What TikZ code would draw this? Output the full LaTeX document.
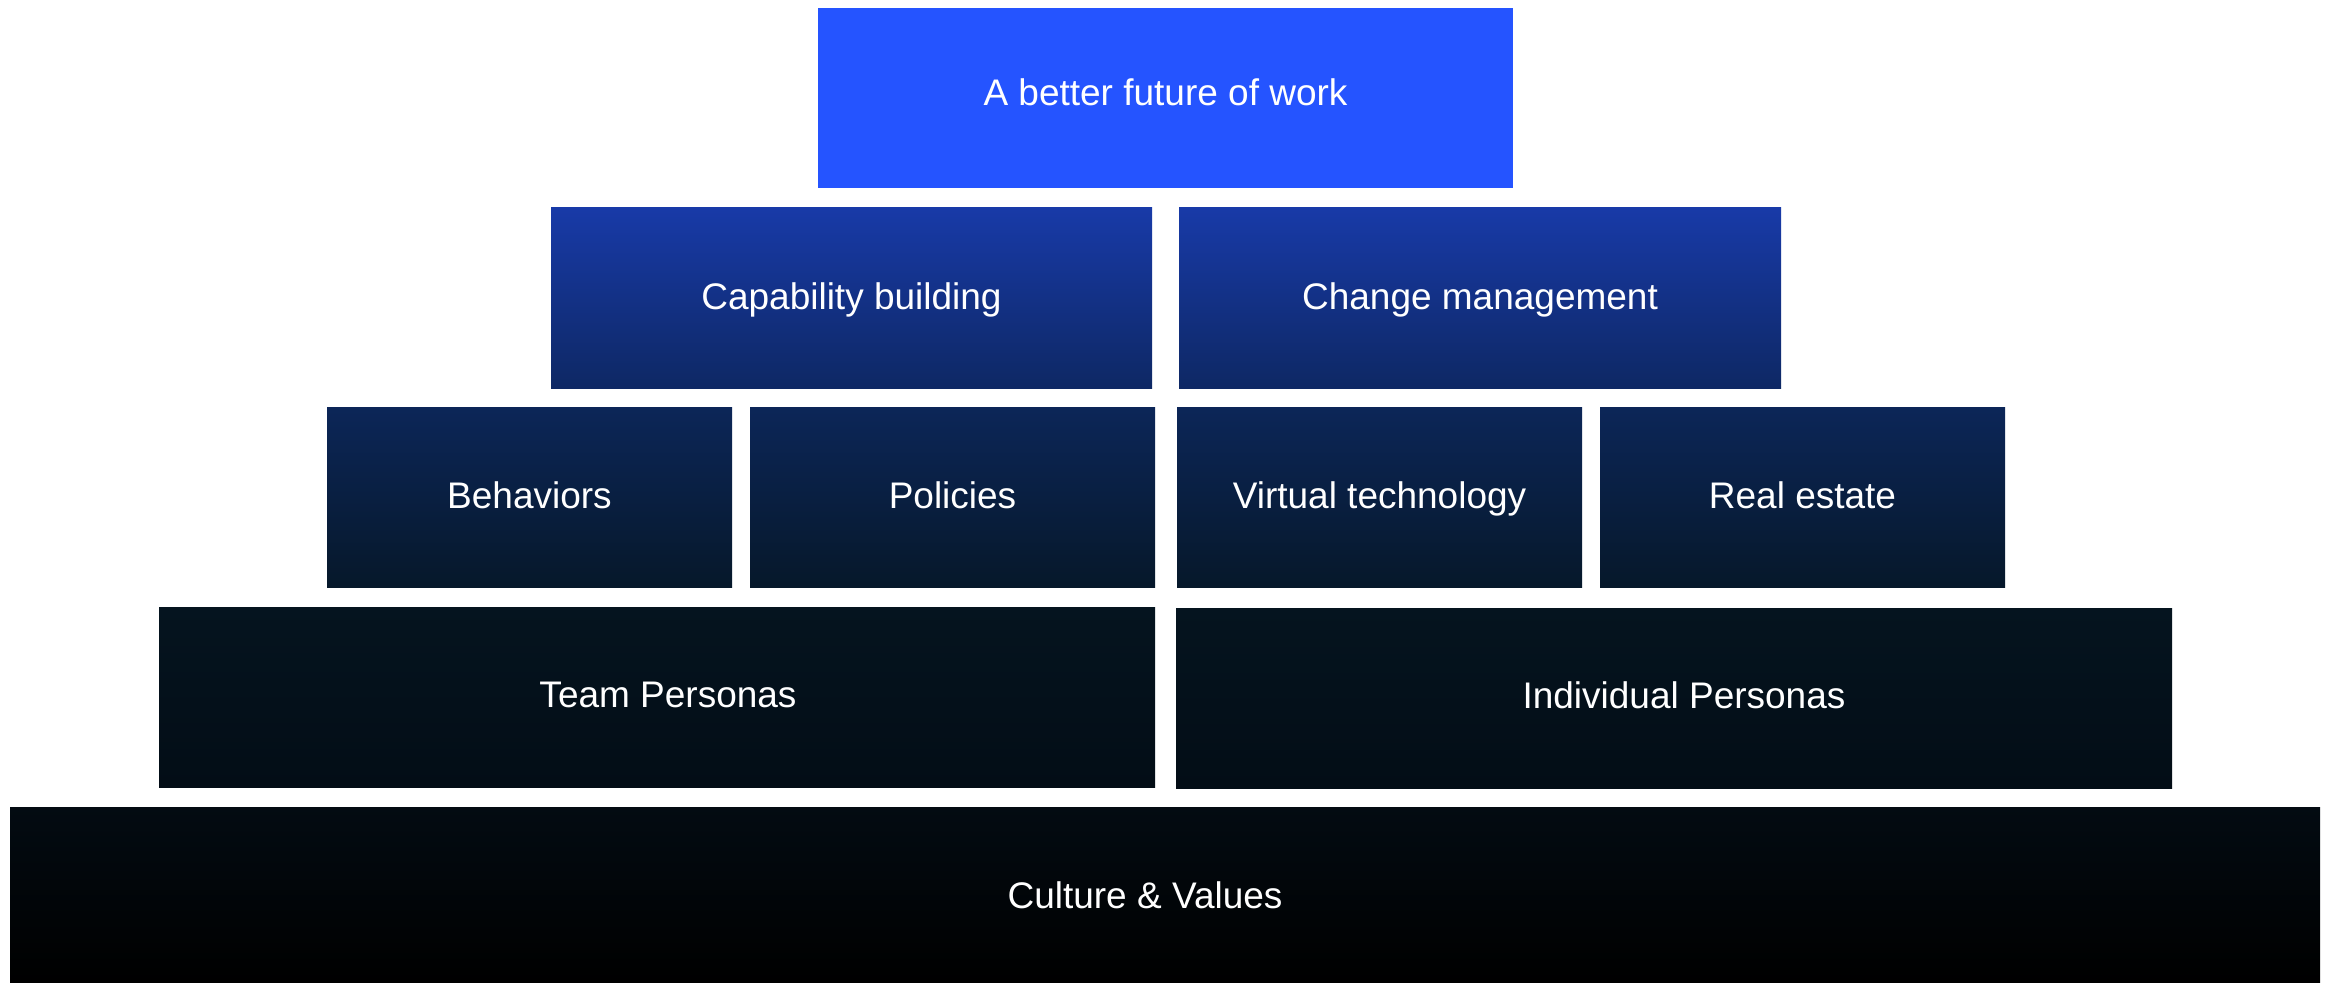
\documentclass[tikz,border=0pt]{standalone}
\usepackage{fontspec}
\setmainfont{Liberation Sans}
\definecolor{ctop}{HTML}{2554FF}
\definecolor{rtwoT}{HTML}{183AA8}
\definecolor{rtwoB}{HTML}{0E2864}
\definecolor{rthrT}{HTML}{0C2658}
\definecolor{rthrB}{HTML}{06182A}
\definecolor{rfouT}{HTML}{05141F}
\definecolor{rfouB}{HTML}{030D16}
\definecolor{rfivT}{HTML}{030B12}
\definecolor{rfivB}{HTML}{000000}
\begin{document}
\begin{tikzpicture}[x=0.5pt,y=-0.5pt,
  pbox/.style 2 args={minimum width=#1*0.5pt, minimum height=#2*0.5pt,
    inner sep=0pt, outer sep=0pt, anchor=north west, draw=none},
  rowtwo/.style={top color=rtwoT, bottom color=rtwoB},
  rowthree/.style={top color=rthrT, bottom color=rthrB},
  rowfour/.style={top color=rfouT, bottom color=rfouB},
  rowfive/.style={top color=rfivT, bottom color=rfivB},
  lbl/.style={text=white, font=\fontsize{18.5pt}{22pt}\selectfont, anchor=base, inner sep=0pt}]
\useasboundingbox[fill=white] (0,0) rectangle (2331,982);
% boxes
\node[pbox={695}{180}, fill=ctop] (top) at (818,8) {};
\node[pbox={601}{181}, rowtwo] (cap) at (551,207) {};
\node[pbox={602}{181}, rowtwo] (chg) at (1179,207) {};
\node[pbox={405}{180}, rowthree] (beh) at (327,407) {};
\node[pbox={405}{180}, rowthree] (pol) at (750,407) {};
\node[pbox={405}{180}, rowthree] (vt) at (1177,407) {};
\node[pbox={405}{180}, rowthree] (re) at (1600,407) {};
\node[pbox={996}{180}, rowfour] (team) at (159,607) {};
\node[pbox={996}{180}, rowfour] (indiv) at (1176,608) {};
\node[pbox={2310}{175}, rowfive] (cult) at (10,807) {};
% labels
\node[lbl] (ttop) at (1165.5,105) {A better future of work};
\node[lbl] (tcap) at (851.5,309) {Capability building};
\node[lbl] (tchg) at (1480,309) {Change management};
\node[lbl] (tbeh) at (529.5,508) {Behaviors};
\node[lbl] (tpol) at (952.5,508) {Policies};
\node[lbl] (tvt) at (1379.5,508) {Virtual technology};
\node[lbl] (tre) at (1802.5,508) {Real estate};
\node[lbl] (tteam) at (668,707) {Team Personas};
\node[lbl] (tindiv) at (1684,708) {Individual Personas};
\node[lbl] (tcult) at (1145,908) {Culture \& Values};
\end{tikzpicture}
\end{document}
